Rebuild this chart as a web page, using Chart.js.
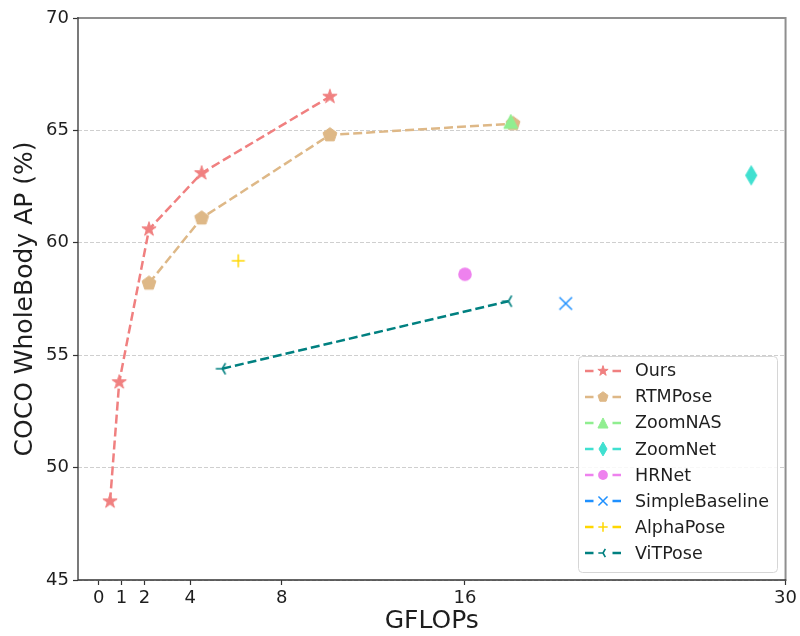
<!DOCTYPE html>
<html><head><meta charset="utf-8">
<script src="https://cdn.jsdelivr.net/npm/chart.js@4.4.1/dist/chart.umd.min.js"></script>
<style>html,body{margin:0;padding:0;background:#fff}</style>
</head><body>
<canvas id="c" width="800" height="636"></canvas>
<script>
// ---- data ----
const seriesNames = ['Ours','RTMPose','ZoomNAS','ZoomNet','HRNet','SimpleBaseline','AlphaPose','ViTPose'];
const oursGflops = [0.5, 0.9, 2.2, 4.5, 10.1];
const oursAP = [48.5, 53.8, 60.6, 63.1, 66.5];
const rtmposeGflops = [2.2, 4.5, 10.1, 18.1];
const rtmposeAP = [58.2, 61.1, 64.8, 65.3];
const zoomnasGflops = [18.0];
const zoomnasAP = [65.4];
const zoomnetGflops = [28.5];
const zoomnetAP = [63.0];
const hrnetGflops = [16.0];
const hrnetAP = [58.6];
const simpleBaselineGflops = [20.4];
const simpleBaselineAP = [57.3];
const alphaPoseGflops = [6.1];
const alphaPoseAP = [59.2];
const vitposeGflops = [5.4, 17.9];
const vitposeAP = [54.4, 57.4];
const xTickValues = [0, 1, 2, 4, 8, 16, 30];
const yTickValues = [45, 50, 55, 60, 65, 70];

// ---- styling ----
const colors = ['#F08080','#DEB887','#90EE90','#40E0D0','#EE82EE','#1E90FF','#FFD700','#008080'];
const kinds = ['star','pentagon','triangle','thindiamond','circle','x','plus','trileft'];
const FONT = "'DejaVu Sans', sans-serif";

function drawShape(c, kind, cx, cy, s, color) {
  c.fillStyle = color; c.strokeStyle = color; c.lineWidth = 1; c.lineJoin = 'miter';
  c.beginPath();
  if (kind === 'star') {
    const R = 7.5*s, r = R*0.382;
    for (let i = 0; i < 10; i++) {
      const a = -Math.PI/2 + i*Math.PI/5, rr = i%2 ? r : R;
      const px = cx + rr*Math.cos(a), py = cy + rr*Math.sin(a);
      i ? c.lineTo(px,py) : c.moveTo(px,py);
    }
    c.closePath(); c.fill(); c.stroke();
  } else if (kind === 'pentagon') {
    const R = 7.3*s;
    for (let i = 0; i < 5; i++) {
      const a = -Math.PI/2 + i*2*Math.PI/5;
      const px = cx + R*Math.cos(a), py = cy + R*Math.sin(a);
      i ? c.lineTo(px,py) : c.moveTo(px,py);
    }
    c.closePath(); c.fill(); c.stroke();
  } else if (kind === 'triangle') {
    const h = 7*s;
    c.moveTo(cx, cy-h); c.lineTo(cx+h, cy+h); c.lineTo(cx-h, cy+h);
    c.closePath(); c.fill(); c.stroke();
  } else if (kind === 'thindiamond') {
    const w = 5.6*s, h = 9.6*s;
    c.moveTo(cx, cy-h); c.lineTo(cx+w, cy); c.lineTo(cx, cy+h); c.lineTo(cx-w, cy);
    c.closePath(); c.fill(); c.stroke();
  } else if (kind === 'circle') {
    c.arc(cx, cy, 6.8*s, 0, Math.PI*2); c.fill();
  } else if (kind === 'x') {
    const h = 6.3*s; c.lineWidth = 1.5;
    c.moveTo(cx-h, cy-h); c.lineTo(cx+h, cy+h); c.moveTo(cx+h, cy-h); c.lineTo(cx-h, cy+h); c.stroke();
  } else if (kind === 'plus') {
    const h = 6.5*s; c.lineWidth = 1.5;
    c.moveTo(cx-h, cy); c.lineTo(cx+h, cy); c.moveTo(cx, cy-h); c.lineTo(cx, cy+h); c.stroke();
  } else if (kind === 'trileft') {
    const h = 6.5*s; c.lineWidth = 1.6;
    c.moveTo(cx, cy); c.lineTo(cx-h, cy);
    c.moveTo(cx, cy); c.lineTo(cx+h*0.5, cy-h*0.866);
    c.moveTo(cx, cy); c.lineTo(cx+h*0.5, cy+h*0.866);
    c.stroke();
  }
}
function makeMarker(kind, color) {
  const cv = document.createElement('canvas'); cv.width = 24; cv.height = 24;
  drawShape(cv.getContext('2d'), kind, 12, 12, 1, color);
  return cv;
}
function makeLegendIcon(kind, color) {
  const cv = document.createElement('canvas'); cv.width = 36; cv.height = 20;
  const c = cv.getContext('2d');
  c.strokeStyle = color; c.lineWidth = 2.5; c.beginPath();
  c.moveTo(0, 10); c.lineTo(8.5, 10); c.moveTo(27.5, 10); c.lineTo(36, 10); c.stroke();
  drawShape(c, kind, 18, 10, 0.72, color);
  return cv;
}
function pts(xs, ys) { return xs.map((x, i) => ({x: x, y: ys[i]})); }

const seriesData = [
  pts(oursGflops, oursAP), pts(rtmposeGflops, rtmposeAP), pts(zoomnasGflops, zoomnasAP),
  pts(zoomnetGflops, zoomnetAP), pts(hrnetGflops, hrnetAP), pts(simpleBaselineGflops, simpleBaselineAP),
  pts(alphaPoseGflops, alphaPoseAP), pts(vitposeGflops, vitposeAP)
];
const legendIcons = seriesNames.map((n, i) => makeLegendIcon(kinds[i], colors[i]));

const datasets = seriesNames.map((name, i) => ({
  label: name,
  data: seriesData[i],
  showLine: seriesData[i].length > 1,
  borderColor: colors[i],
  backgroundColor: colors[i],
  borderWidth: 2.5,
  borderDash: [9, 4],
  pointStyle: makeMarker(kinds[i], colors[i]),
  pointRadius: 7,
  pointHoverRadius: 7,
  order: 20 - i
}));

const framePlugin = {
  id: 'frame',
  afterDraw(chart) {
    const {ctx, chartArea: a} = chart;
    ctx.save();
    ctx.lineCap = 'square';
    ctx.strokeStyle = '#8f8f8f'; ctx.lineWidth = 2;
    ctx.beginPath(); ctx.moveTo(a.left, a.top); ctx.lineTo(a.right, a.top); ctx.lineTo(a.right, a.bottom); ctx.stroke();
    ctx.strokeStyle = '#333333'; ctx.lineWidth = 1.3;
    ctx.beginPath(); ctx.moveTo(a.left, a.top); ctx.lineTo(a.left, a.bottom); ctx.lineTo(a.right, a.bottom); ctx.stroke();
    ctx.restore();
  }
};

const legendPlugin = {
  id: 'boxLegend',
  afterDraw(chart) {
    const ctx = chart.ctx;
    const bx = 578, by = 356, bw = 199, bh = 216, rowTop = 370.7, rowStep = 26.1;
    ctx.save();
    ctx.beginPath();
    ctx.roundRect(bx + 0.5, by + 0.5, bw, bh, 4);
    ctx.fillStyle = 'rgba(255,255,255,0.85)'; ctx.fill();
    ctx.strokeStyle = '#d6d6d6'; ctx.lineWidth = 1; ctx.stroke();
    ctx.font = '17.5px ' + FONT; ctx.fillStyle = '#1e1e1e'; ctx.textBaseline = 'middle'; ctx.textAlign = 'left';
    chart.data.datasets.forEach((ds, i) => {
      const y = rowTop + i * rowStep;
      const icon = legendIcons[i];
      ctx.drawImage(icon, 585, Math.round(y - icon.height / 2));
      ctx.fillText(ds.label, 635, y + 1);
    });
    ctx.restore();
  }
};

new Chart(document.getElementById('c'), {
  type: 'scatter',
  data: { datasets: datasets },
  options: {
    responsive: false,
    animation: false,
    devicePixelRatio: 1,
    layout: { padding: { left: 0, right: 13, top: 18, bottom: 0 } },
    plugins: { legend: { display: false }, tooltip: { enabled: false } },
    scales: {
      x: {
        type: 'linear', min: -0.9, max: 30,
        afterBuildTicks(axis) { axis.ticks = xTickValues.map(v => ({value: v})); },
        afterFit(scale) { scale.height = 56; },
        border: { display: false },
        grid: { drawOnChartArea: false, drawTicks: true, tickLength: 5, tickColor: '#333', tickWidth: 1.2, tickBorderDash: [] },
        ticks: { autoSkip: false, maxRotation: 0, padding: 3, color: '#1e1e1e', font: { family: FONT, size: 18 } },
        title: { display: true, text: 'GFLOPs', color: '#1e1e1e', font: { family: FONT, size: 25 }, padding: { top: 0, bottom: 0 } }
      },
      y: {
        type: 'linear', min: 45, max: 70,
        afterBuildTicks(axis) { axis.ticks = yTickValues.map(v => ({value: v})); },
        afterFit(scale) { scale.width = 78; },
        border: { display: false, dash: [4, 2] },
        grid: { color: '#cfcfcf', lineWidth: 1, drawTicks: true, tickLength: 5, tickColor: '#333', tickWidth: 1.2, tickBorderDash: [] },
        ticks: { autoSkip: false, padding: 4, color: '#1e1e1e', font: { family: FONT, size: 18 } },
        title: { display: true, text: 'COCO WholeBody AP (%)', color: '#1e1e1e', font: { family: FONT, size: 25 }, padding: { top: 10, bottom: 0 } }
      }
    }
  },
  plugins: [framePlugin, legendPlugin]
});
</script>
</body></html>
